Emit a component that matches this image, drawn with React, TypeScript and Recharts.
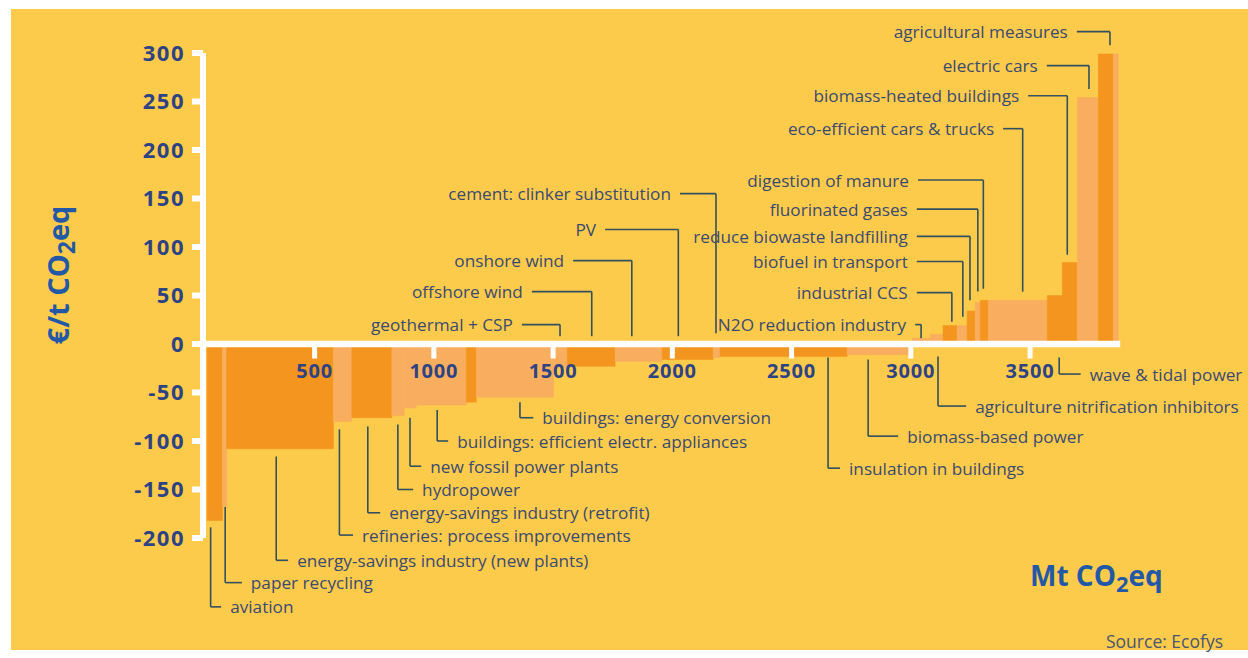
import React from 'react';
import { ComposedChart, Line, XAxis, YAxis, ReferenceArea, ReferenceLine, ReferenceDot } from 'recharts';

// abatement measures, ordered by cost (left to right)
const measures = [
  'aviation', 'paper recycling', 'energy-savings industry (new plants)', 'refineries: process improvements',
  'energy-savings industry (retrofit)', 'hydropower', 'new fossil power plants', 'buildings: efficient electr. appliances',
  '', 'buildings: energy conversion', 'geothermal + CSP', 'offshore wind', 'onshore wind', 'PV',
  'cement: clinker substitution', 'insulation in buildings', 'biomass-based power', 'N2O reduction industry',
  'agriculture nitrification inhibitors', 'industrial CCS', 'biofuel in transport', 'reduce biowaste landfilling',
  'fluorinated gases', 'digestion of manure', 'eco-efficient cars & trucks', 'wave & tidal power',
  'biomass-heated buildings', 'electric cars', 'agricultural measures', '',
];
// abatement potential, Mt CO2eq
const volumes = [65, 17, 448, 77, 168, 52, 50, 210, 42, 324, 57, 201, 197, 214, 29, 533, 272, 76, 54, 59, 42, 34, 21, 34, 247, 63, 63, 88, 63, 21];
// cost, €/t CO2eq
const costs = [-182, -168, -108, -80, -76, -74, -66, -63, -60, -55, -24, -23, -18, -16, -14, -13, -11, 6, 10, 19, 19, 34, 43, 45, 45, 50, 84, 254, 299, 299];
const tones = ['d', 'l', 'd', 'l', 'd', 'l', 'l', 'l', 'd', 'l', 'l', 'd', 'l', 'd', 'l', 'd', 'l', 'l', 'l', 'd', 'l', 'd', 'l', 'd', 'l', 'd', 'd', 'l', 'd', 'l'];
const curveStart = 49;

const yTicks = [-200, -150, -100, -50, 0, 50, 100, 150, 200, 250, 300];
const xTicks = [500, 1000, 1500, 2000, 2500, 3000, 3500];

// callouts under the axis: leader goes down from the bar, then right to the label
const calloutsBelow = [
  { text: 'aviation', x: 64, from: -189, row: -271, end: 108 },
  { text: 'paper recycling', x: 125, from: -168, row: -246, end: 195 },
  { text: 'energy-savings industry (new plants)', x: 339, from: -116, row: -223, end: 389 },
  { text: 'refineries: process improvements', x: 604, from: -88, row: -197, end: 661 },
  { text: 'energy-savings industry (retrofit)', x: 723, from: -85, row: -174, end: 775 },
  { text: 'hydropower', x: 849, from: -83, row: -150, end: 913 },
  { text: 'new fossil power plants', x: 900, from: -76, row: -126, end: 947 },
  { text: 'buildings: efficient electr. appliances', x: 1014, from: -68, row: -100, end: 1060 },
  { text: 'buildings: energy conversion', x: 1361, from: -60, row: -76, end: 1417 },
  { text: 'insulation in buildings', x: 2653, from: -14, row: -128, end: 2703 },
  { text: 'biomass-based power', x: 2821, from: -16, row: -95, end: 2947 },
  { text: 'agriculture nitrification inhibitors', x: 3114, from: -13, row: -64, end: 3232 },
  { text: 'wave & tidal power', x: 3622, from: -14, row: -31, end: 3712 },
];

// callouts over the axis: label, then leader right and down to the bar
const calloutsAbove = [
  { text: 'geothermal + CSP', x: 1529, to: 8, row: 20, start: 1369 },
  { text: 'offshore wind', x: 1662, to: 8, row: 54, start: 1411 },
  { text: 'onshore wind', x: 1830, to: 8, row: 86, start: 1584 },
  { text: 'PV', x: 2025, to: 8, row: 118, start: 1718 },
  { text: 'cement: clinker substitution', x: 2183, to: 11, row: 155, start: 2032 },
  { text: 'N2O reduction industry', x: 3043, to: 6, row: 20, start: 3018 },
  { text: 'industrial CCS', x: 3172, to: 23, row: 53, start: 3025 },
  { text: 'biofuel in transport', x: 3218, to: 28, row: 85, start: 3025 },
  { text: 'reduce biowaste landfilling', x: 3248, to: 45, row: 111, start: 3025 },
  { text: 'fluorinated gases', x: 3281, to: 54, row: 139, start: 3025 },
  { text: 'digestion of manure', x: 3304, to: 57, row: 169, start: 3030 },
  { text: 'eco-efficient cars & trucks', x: 3469, to: 54, row: 222, start: 3387 },
  { text: 'biomass-heated buildings', x: 3656, to: 92, row: 256, start: 3492 },
  { text: 'electric cars', x: 3747, to: 263, row: 287, start: 3570 },
  { text: 'agricultural measures', x: 3835, to: 308, row: 322, start: 3696 },
];

const C = {
  bg: '#FDCB4B',
  dark: '#F4951F',
  light: '#F8AE5E',
  ink: '#3C4A72',
  nums: '#2F4384',
  title: '#2358A6',
  leader: '#33505E',
};
const FONT = '"Open Sans", sans-serif';

export default function App() {
  let acc = curveStart;
  const bars = measures.map((name, i) => {
    const x1 = acc;
    acc += volumes[i];
    return { name, x1, x2: acc, mid: (x1 + acc) / 2, cost: costs[i], tone: tones[i] };
  });
  const curveEnd = acc;

  const labelText = (text: string, dx: number, anchor: 'start' | 'end') => (p: any) => (
    <text x={p.cx + dx} y={p.cy} textAnchor={anchor} dominantBaseline="central"
      fill={C.ink} fontSize={17.2} fontFamily={FONT}>{text}</text>
  );
  const leader = { stroke: C.leader, strokeWidth: 1.6, ifOverflow: 'visible' as const };

  return (
    <div style={{ position: 'fixed', left: 0, top: 0, width: 1248, height: 658, background: '#fff' }}>
      <div style={{ position: 'absolute', left: 11, top: 9, width: 1237, height: 641, background: C.bg }} />
      <div style={{ position: 'absolute', left: 0, top: 0 }}>
        <ComposedChart width={1248} height={658} data={bars} margin={{ top: 53, right: 123, bottom: 120, left: 143 }}>
          <XAxis type="number" dataKey="mid" domain={[32, 3898]} hide allowDataOverflow />
          <YAxis type="number" domain={[-200, 300]} ticks={yTicks} interval={0} width={60}
            axisLine={{ stroke: '#fff', strokeWidth: 6 }}
            tickLine={{ stroke: '#fff', strokeWidth: 6 }} tickSize={11} tickMargin={7}
            tick={{ fill: C.nums, fontSize: 22, fontWeight: 700, fontFamily: FONT, letterSpacing: 1.5 }} />

          {bars.map((b, i) => (
            <ReferenceArea key={'b' + i} x1={b.x1} x2={b.x2} y1={0} y2={b.cost}
              fill={b.tone === 'd' ? C.dark : C.light} fillOpacity={1}
              stroke={b.tone === 'd' ? C.dark : C.light} strokeWidth={0.5} ifOverflow="visible" />
          ))}

          <ReferenceLine segment={[{ x: 32, y: 0 }, { x: curveEnd + 8, y: 0 }]} stroke="#fff" strokeWidth={6.5} ifOverflow="visible" />
          {xTicks.map((t) => (
            <ReferenceLine key={'xt' + t} segment={[{ x: t, y: -3 }, { x: t, y: -15 }]} stroke="#fff" strokeWidth={5} ifOverflow="visible" />
          ))}
          {xTicks.map((t) => (
            <ReferenceDot key={'xl' + t} x={t} y={-27} r={0} ifOverflow="visible"
              shape={(p: any) => (
                <text x={p.cx} y={p.cy} textAnchor="middle" dominantBaseline="central" fill={C.nums}
                  fontSize={20} fontWeight={700} fontFamily={FONT} letterSpacing={0.8}>{t}</text>
              )} />
          ))}

          {calloutsBelow.map((c, i) => (
            <React.Fragment key={'cb' + i}>
              <ReferenceLine segment={[{ x: c.x, y: c.from }, { x: c.x, y: c.row }]} {...leader} />
              <ReferenceLine segment={[{ x: c.x, y: c.row }, { x: c.end, y: c.row }]} {...leader} />
              <ReferenceDot x={c.end} y={c.row} r={0} ifOverflow="visible" shape={labelText(c.text, 9, 'start')} />
            </React.Fragment>
          ))}
          {calloutsAbove.map((c, i) => (
            <React.Fragment key={'ca' + i}>
              <ReferenceLine segment={[{ x: c.start, y: c.row }, { x: c.x, y: c.row }]} {...leader} />
              <ReferenceLine segment={[{ x: c.x, y: c.row }, { x: c.x, y: c.to }]} {...leader} />
              <ReferenceDot x={c.start} y={c.row} r={0} ifOverflow="visible" shape={labelText(c.text, -9, 'end')} />
            </React.Fragment>
          ))}

          <Line dataKey="cost" stroke="none" dot={false} activeDot={false} isAnimationActive={false} />
        </ComposedChart>
      </div>

      <div style={{
        position: 'absolute', left: 57, top: 275, transform: 'translate(-50%, -50%) rotate(-90deg)',
        whiteSpace: 'nowrap', color: C.title, fontFamily: FONT, fontWeight: 700, fontSize: 29,
      }}>
        €/t CO<span style={{ fontSize: 23, position: 'relative', top: 6 }}>2</span>eq
      </div>
      <div style={{
        position: 'absolute', left: 1030, top: 556, whiteSpace: 'nowrap', color: C.title,
        fontFamily: FONT, fontWeight: 700, fontSize: 28,
      }}>
        Mt CO<span style={{ fontSize: 22, position: 'relative', top: 6 }}>2</span>eq
      </div>
      <div style={{
        position: 'absolute', left: 1106, top: 629, whiteSpace: 'nowrap', color: '#4A5672',
        fontFamily: FONT, fontSize: 17.5,
      }}>
        Source: Ecofys
      </div>
    </div>
  );
}
